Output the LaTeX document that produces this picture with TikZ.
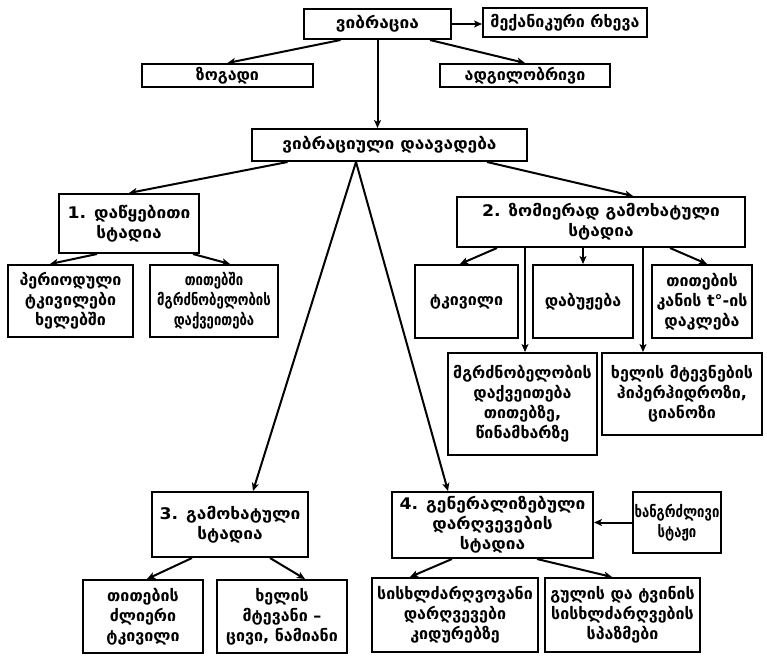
\documentclass[tikz,border=0pt]{standalone}
\usepackage{fontspec}
\usetikzlibrary{arrows.meta}
\setmainfont{DejaVu Sans}
\newfontfamily\headfont{DejaVu Sans}[FakeStretch=1.08]
\newfontfamily\narrowfont{DejaVu Sans}[FakeStretch=0.82]
\begin{document}
\begin{tikzpicture}[x=1pt, y=-1pt, line width=2pt, >={Stealth[length=8pt, width=7pt, inset=2pt]},
    font=\bfseries\fontsize{16}{20}\selectfont,
    main/.style = {draw, rectangle, align=center, inner sep=2pt},
    head/.style = {main, font=\headfont\bfseries\fontsize{16}{20}\selectfont},
    narrow/.style = {main, font=\narrowfont\bfseries\fontsize{16}{20}\selectfont}]
    \useasboundingbox (0,0) rectangle (767,655);
    \node[head, minimum width=147, minimum height=30] (1) at (377.5,24) {ვიბრაცია};
    \node[main, minimum width=164, minimum height=29] (2) at (565,22.5) {მექანიკური რხევა};
    \node[main, minimum width=171, minimum height=23] (3) at (227.5,75.5) {ზოგადი};
    \node[main, minimum width=170, minimum height=23] (4) at (525,75.5) {ადგილობრივი};
    \node[head, minimum width=275, minimum height=32] (5) at (389.5,145) {ვიბრაციული დაავადება};
    %Stage 1
    \node[head, minimum width=140, minimum height=59] (6) at (129,223.5) {1. დაწყებითი\\სტადია};
    \node[main, minimum width=125, minimum height=72] (7) at (70.5,301) {პერიოდული\\ტკივილები\\ხელებში};
    \node[narrow, minimum width=128, minimum height=72] (8) at (214,301) {თითებში\\მგრძნობელობის\\დაქვეითება};
    %Stage 2
    \node[head, minimum width=288, minimum height=50] (9) at (601,222) {2. ზომიერად გამოხატული\\სტადია};
    \node[main, minimum width=103, minimum height=73] (10) at (466.5,301.5) {ტკივილი};
    \node[main, minimum width=100, minimum height=73] (11) at (583,301.5) {დაბუჟება};
    \node[main, minimum width=100, minimum height=73] (12) at (702,301.5) {თითების\\კანის t°-ის\\დაკლება};
    \node[main, minimum width=149, minimum height=102] (13) at (522.5,404) {მგრძნობელობის\\დაქვეითება\\თითებზე,\\წინამხარზე};
    \node[main, minimum width=160, minimum height=82] (14) at (682,394) {ხელის მტევნების\\ჰიპერჰიდროზი,\\ციანოზი};
    %Stage 3
    \node[head, minimum width=156, minimum height=65] (15) at (230,524.5) {3. გამოხატული\\სტადია};
    \node[main, minimum width=120, minimum height=73] (16) at (143,616.5) {თითების\\ძლიერი\\ტკივილი};
    \node[main, minimum width=130, minimum height=73] (17) at (282,616.5) {ხელის\\მტევანი –\\ცივი, ნამიანი};
    %Stage 4
    \node[head, minimum width=201, minimum height=66] (18) at (492.5,525) {4. გენერალიზებული\\დარღვევების\\სტადია};
    \node[narrow, minimum width=84, minimum height=61] (19) at (677,522.5) {ხანგრძლივი\\სტაჟი};
    \node[main, minimum width=166, minimum height=74] (20) at (455,615) {სისხლძარღვოვანი\\დარღვევები\\კიდურებზე};
    \node[main, minimum width=155, minimum height=74] (21) at (622.5,615) {გულის და ტვინის\\სისხლძარღვების\\სპაზმები};
    \draw[->] (1.east) to (1.east -| 2.west);
    \draw[->] ([xshift=-37]1.south) to (3.north);
    \draw[->] ([xshift=52.5]1.south) to (4.north);
    \draw[->] (1.south) to (1.south |- 5.north);
    \draw[->] ([xshift=-102]5.south) to (6.north);
    \draw[->] ([xshift=97.5]5.south) to ([xshift=32]9.north);
    \draw[->] ([xshift=-33.5]5.south) to ([xshift=23]15.north);
    \draw[->] ([xshift=-33.5]5.south) to ([xshift=-44.5]18.north);
    \draw[->] ([xshift=-32]6.south) to ([xshift=-20.5]7.north);
    \draw[->] ([xshift=64]6.south) to ([xshift=16]8.north);
    \draw[->] ([xshift=-104]9.south) to ([xshift=-6.5]10.north);
    \draw[->] (9.south -| 11.north) to (11.north);
    \draw[->] ([xshift=69]9.south) to ([xshift=5]12.north);
    \draw[->] ([xshift=-76]9.south) to ([xshift=2.5]13.north);
    \draw[->] ([xshift=42]9.south) to ([xshift=-39]14.north);
    \draw[->] ([xshift=-38]15.south) to ([xshift=4]16.north);
    \draw[->] ([xshift=40]15.south) to ([xshift=23]17.north);
    \draw[->] ([xshift=-40.5]18.south) to ([xshift=-45]20.north);
    \draw[->] ([xshift=44.5]18.south) to ([xshift=-10.5]21.north);
    \draw[->] (19.west) to (19.west -| 18.east);
\end{tikzpicture}
\end{document}
